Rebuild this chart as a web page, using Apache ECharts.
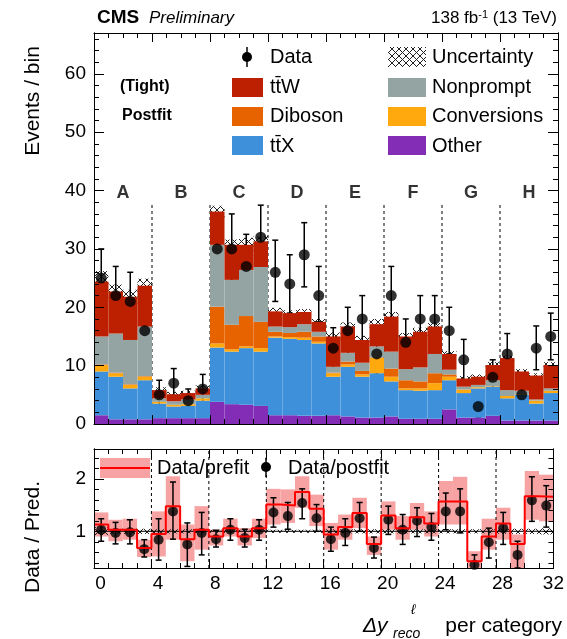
<!DOCTYPE html>
<html>
<head>
<meta charset="utf-8">
<script src="https://cdn.jsdelivr.net/npm/echarts@6/dist/echarts.min.js"></script>
<style>
  html, body { margin: 0; padding: 0; background: #fff; }
  #chart { width: 567px; height: 639px; }
</style>
</head>
<body>
<div id="chart"></div>
<script>
// ---- data ----
const binNames = ['0','1','2','3','4','5','6','7','8','9','10','11','12','13','14','15',
  '16','17','18','19','20','21','22','23','24','25','26','27','28','29','30','31'];
const categories = ['A', 'B', 'C', 'D', 'E', 'F', 'G', 'H'];
const catEdges = [4, 8, 12, 16, 20, 24, 28];

// stacked postfit yields per bin, bottom to top
const other       = [1.5,0.8,0.8,0.8, 1.0,1.0,1.0,1.0, 3.8,3.4,3.3,3.1, 1.5,1.5,1.4,1.4, 1.5,1.3,1.1,1.1, 1.3,0.9,0.9,0.9, 2.5,1.1,1.1,1.4, 0.6,0.6,0.6,0.6];
const ttX         = [7.5,7.3,5.3,6.7, 2.5,2.0,2.1,3.0, 9.3,9.0,9.7,9.3, 13.3,13.1,13.0,12.4, 6.6,8.5,7.0,7.6, 6.0,4.9,4.8,4.9, 5.0,4.2,5.0,5.0, 3.8,4.4,2.9,4.7];
const conversions = [1.1,0.6,0.6,0.6, 0.3,0.3,0.3,0.4, 0.7,0.4,0.3,0.6, 0.2,0.3,0.4,0.3, 0.6,0.4,0.4,2.6, 0.8,0.3,0.4,1.2, 0.6,0.6,0.2,0.1, 0.4,0.1,0.5,0.4];
const diboson     = [0.1,0.1,0.1,0.1, 0,0,0,0, 6.3,4.2,5.2,4.5, 0.8,0.7,1.0,0.9, 0.1,0.5,0.6,0.1, 1.4,1.4,1.2,1.7, 0.4,0,0,0, 0,0,0,0];
const nonprompt   = [4.8,6.7,7.6,8.5, 0.6,0.6,0.8,0.6, 10.6,7.7,7.9,9.4, 0.9,1.0,1.3,0.8, 1.0,1.5,1.4,1.9, 2.9,1.9,2.4,3.3, 0.8,0.5,0.4,1.0, 1.0,0.6,0.2,0.4];
const ttW         = [9.4,7.2,7.4,7.0, 1.4,1.2,1.1,1.1, 5.7,6.0,4.3,4.4, 2.6,2.4,2.1,1.7, 5.2,4.5,3.9,3.8, 6.0,5.6,6.1,4.7, 2.7,1.4,1.4,2.6, 5.5,3.3,4.1,4.0];
const uncert      = [1.8,1.2,1.2,1.2, 0.5,0.4,0.4,0.5, 1.0,0.9,1.2,0.9, 0.6,0.5,0.5,0.5, 0.7,0.7,0.7,0.9, 0.8,0.6,0.7,0.6, 0.5,0.4,0.4,0.5, 0.4,0.4,0.4,0.5];

// observed data with error bar ends
const dataObs = [25,22,21,16, 5,7,4,6, 30,30,27,32, 26,24,29,22, 13,16,18,12, 22,14,18,18, 16,11,3,8, 12,5,13,15];
const dataHi  = [30,27,26,20, 7.5,9.5,6,8.5, 36,36,32.5,37.5, 31.5,29,34.5,27, 16.5,20,22,15.5, 27,18,22,22, 20,14.5,4.7,11, 15.5,7.5,16.8,19];
const dataLo  = [20,18,16.5,12, 3,4.5,2.3,3.7, 24.5,24.5,21.5,26.5, 21,19,23.5,17.5, 9.5,12,13.5,8.5, 17,10.5,13.5,13.5, 12,7.5,1.2,5.5, 8.5,2.7,9.3,11];

// ratio panel
const ratioPost   = [1.03,0.97,0.98,0.66, 0.84,1.38,0.75,0.97, 0.85,1.03,0.87,1.03, 1.36,1.29,1.54,1.25, 0.85,0.97,1.25,0.68, 1.22,1.03,1.20,1.08, 1.38,1.38,0.36,0.79, 1.06,0.55,1.59,1.49];
const ratioPostHi = [1.24,1.17,1.22,0.84, 1.24,1.94,1.16,1.36, 1.02,1.24,1.04,1.22, 1.64,1.55,1.81,1.51, 1.08,1.24,1.55,0.89, 1.48,1.32,1.45,1.34, 1.73,1.81,0.55,1.06, 1.36,0.81,2.04,1.87];
const ratioPostLo = [0.81,0.76,0.76,0.51, 0.45,0.85,0.33,0.55, 0.70,0.83,0.70,0.83, 1.08,1.04,1.24,1.00, 0.62,0.73,1.00,0.49, 0.94,0.75,0.90,0.83, 1.03,0.97,0.25,0.49, 0.75,0.30,1.19,1.08];
const ratioPre    = [1.13,1.03,1.03,0.68, 0.95,1.48,0.85,1.03, 0.90,1.06,0.90,1.06, 1.51,1.49,1.75,1.43, 0.94,1.08,1.35,0.76, 1.30,1.06,1.27,1.15, 1.57,1.57,0.43,0.90, 1.15,0.76,1.67,1.66];
const ratioPreHi  = [1.36,1.22,1.24,0.84, 1.38,2.05,1.13,1.48, 1.03,1.24,1.06,1.24, 1.81,1.80,2.05,1.70, 1.16,1.32,1.64,0.90, 1.57,1.29,1.54,1.38, 1.96,2.04,0.62,1.24, 1.45,0.94,2.15,2.08];
const ratioPreLo  = [0.90,0.81,0.84,0.51, 0.52,0.84,0.43,0.65, 0.73,0.90,0.73,0.87, 1.13,1.16,1.45,1.10, 0.65,0.84,1.06,0.55, 1.03,0.84,1.03,0.90, 1.13,1.13,0.25,0.65, 0.84,0.30,1.22,1.19];
const postUnc     = [0.08,0.05,0.05,0.05, 0.04,0.04,0.04,0.04, 0.03,0.03,0.03,0.03, 0.03,0.03,0.03,0.03, 0.04,0.04,0.04,0.04, 0.04,0.04,0.04,0.04, 0.04,0.04,0.04,0.04, 0.05,0.05,0.05,0.06];

// tick values
const yMajor = [0, 10, 20, 30, 40, 50, 60];
const yMinor = [2,4,6,8,12,14,16,18,22,24,26,28,32,34,36,38,42,44,46,48,52,54,56,58,62,64,66];
const rMajor = [1, 2];
const rMinor = [0.4,0.6,0.8,1.2,1.4,1.6,1.8,2.2,2.4];

const FONT = '"Liberation Sans", Arial, Helvetica, sans-serif';
const colors = {
  ttW: '#bd1f01', nonprompt: '#94a4a2', diboson: '#e76300',
  conversions: '#ffa90e', ttX: '#3f90da', other: '#832db6'
};

// crosshatch pattern for uncertainties
function makeHatch(size) {
  const c = document.createElement('canvas');
  c.width = size; c.height = size;
  const g = c.getContext('2d');
  g.strokeStyle = '#222';
  g.lineWidth = 1;
  g.beginPath();
  g.moveTo(0, 0); g.lineTo(size, size);
  g.moveTo(size, 0); g.lineTo(0, size);
  g.stroke();
  return c;
}
const hatch = { image: makeHatch(7), repeat: 'repeat' };

// rect from value [x0, x1, y0, y1]
function rectRenderer(fill) {
  return function (params, api) {
    const p0 = api.coord([api.value(0), api.value(3)]);
    const p1 = api.coord([api.value(1), api.value(2)]);
    const shape = echarts.graphic.clipRectByRect(
      { x: p0[0], y: p0[1], width: p1[0] - p0[0], height: p1[1] - p0[1] },
      { x: params.coordSys.x, y: params.coordSys.y, width: params.coordSys.width, height: params.coordSys.height }
    );
    return shape && { type: 'rect', shape: shape, style: { fill: fill } };
  };
}

// error bar from value [x, lo, hi]
function errRenderer(capW) {
  return function (params, api) {
    const cs = params.coordSys;
    const top = api.coord([api.value(0), api.value(2)]);
    const bot = api.coord([api.value(0), api.value(1)]);
    const yTop = Math.max(top[1], cs.y);
    const yBot = Math.min(bot[1], cs.y + cs.height);
    const kids = [{ type: 'line', shape: { x1: top[0], y1: yTop, x2: top[0], y2: yBot }, style: { stroke: '#000', lineWidth: 1.5 } }];
    if (top[1] >= cs.y) kids.push({ type: 'line', shape: { x1: top[0] - capW, y1: top[1], x2: top[0] + capW, y2: top[1] }, style: { stroke: '#000', lineWidth: 1.5 } });
    if (bot[1] <= cs.y + cs.height) kids.push({ type: 'line', shape: { x1: bot[0] - capW, y1: bot[1], x2: bot[0] + capW, y2: bot[1] }, style: { stroke: '#000', lineWidth: 1.5 } });
    return { type: 'group', children: kids };
  };
}

// dashed category separators from value [x, y0, y1]
function sepRenderer(params, api) {
  const a = api.coord([api.value(0), api.value(1)]);
  const b = api.coord([api.value(0), api.value(2)]);
  return { type: 'line', shape: { x1: a[0], y1: a[1], x2: b[0], y2: b[1] }, style: { stroke: '#000', lineWidth: 1, lineDash: [3, 3] } };
}

const chart = echarts.init(document.getElementById('chart'));

const totals = binNames.map((_, i) => other[i] + ttX[i] + conversions[i] + diboson[i] + nonprompt[i] + ttW[i]);

function valueX(grid, pos, showLabel) {
  return {
    type: 'value', gridIndex: grid, position: pos, min: 0, max: 32, interval: 4, z: 10,
    axisLine: { show: true, onZero: false, lineStyle: { color: '#000', width: 1 } },
    axisTick: { show: true, inside: true, length: 9, lineStyle: { color: '#000' } },
    minorTick: { show: true, splitNumber: 4, length: 5, lineStyle: { color: '#000' } },
    axisLabel: {
      show: showLabel, color: '#000', fontSize: 19, fontFamily: FONT, margin: 6,
      // ROOT puts the labels a little right of the ticks, the last one pulled inside
      formatter: v => (v === 32 ? '{e|' + v + '}' : '{n|' + v + '}'),
      rich: {
        n: { fontSize: 19, fontFamily: FONT, color: '#000', padding: [0, 0, 0, 13] },
        e: { fontSize: 19, fontFamily: FONT, color: '#000', padding: [0, 0, 0, 0] }
      }
    },
    splitLine: { show: false }
  };
}
function valueY(grid, pos, min, max, ticks, len, labels) {
  return {
    type: 'value', gridIndex: grid, position: pos, min: min, max: max, z: 10,
    axisLine: { show: true, onZero: false, lineStyle: { color: '#000', width: 1 } },
    axisTick: { show: true, inside: true, length: len, customValues: ticks, lineStyle: { color: '#000' } },
    axisLabel: labels ? { show: true, customValues: labels, color: '#000', fontSize: 19, fontFamily: FONT, margin: 8 } : { show: false },
    splitLine: { show: false }
  };
}

function stackBar(name, values, color) {
  return {
    name: name, type: 'bar', stack: 'bkg', xAxisIndex: 0, yAxisIndex: 0,
    barWidth: '100%', barCategoryGap: '0%',
    itemStyle: { color: color }, data: values, animation: false
  };
}

const option = {
  animation: false,
  textStyle: { fontFamily: FONT },
  grid: [
    { left: 94, top: 33, width: 464, height: 391 },
    { left: 94, top: 449, width: 464, height: 119 }
  ],
  xAxis: [
    { type: 'category', gridIndex: 0, data: binNames, show: false, boundaryGap: true },
    valueX(0, 'bottom', false),
    valueX(0, 'top', false),
    valueX(1, 'bottom', true),
    valueX(1, 'top', false)
  ],
  yAxis: [
    valueY(0, 'left', 0, 67, yMajor, 10, yMajor),
    valueY(0, 'left', 0, 67, yMinor, 5, null),
    valueY(0, 'right', 0, 67, yMajor, 10, null),
    valueY(0, 'right', 0, 67, yMinor, 5, null),
    valueY(1, 'left', 0.3, 2.57, rMajor, 10, rMajor),
    valueY(1, 'left', 0.3, 2.57, rMinor, 5, null),
    valueY(1, 'right', 0.3, 2.57, rMajor, 10, null),
    valueY(1, 'right', 0.3, 2.57, rMinor, 5, null)
  ],
  series: [
    stackBar('Other', other, colors.other),
    stackBar('ttX', ttX, colors.ttX),
    stackBar('Conversions', conversions, colors.conversions),
    stackBar('Diboson', diboson, colors.diboson),
    stackBar('Nonprompt', nonprompt, colors.nonprompt),
    stackBar('ttW', ttW, colors.ttW),
    {
      name: 'Uncertainty', type: 'custom', xAxisIndex: 1, yAxisIndex: 0,
      renderItem: rectRenderer(hatch),
      data: totals.map((t, i) => [i, i + 1, t - uncert[i], t + uncert[i]])
    },
    {
      type: 'custom', xAxisIndex: 1, yAxisIndex: 0, renderItem: sepRenderer,
      data: catEdges.map(x => [x, 0, 37.9])
    },
    {
      type: 'scatter', xAxisIndex: 1, yAxisIndex: 0, symbolSize: 0, silent: true,
      data: categories.map((c, i) => ({ value: [4 * i + 2, 39.6], name: c })),
      label: { show: true, position: 'inside', formatter: '{b}', color: '#000', fontSize: 18, fontWeight: 'bold', fontFamily: FONT }
    },
    {
      type: 'custom', xAxisIndex: 1, yAxisIndex: 0, renderItem: errRenderer(3),
      data: dataObs.map((v, i) => [i + 0.5, dataLo[i], dataHi[i]])
    },
    {
      name: 'Data', type: 'scatter', xAxisIndex: 1, yAxisIndex: 0, symbolSize: 11,
      itemStyle: { color: '#000' },
      data: dataObs.map((v, i) => [i + 0.5, v])
    },
    // ratio panel
    {
      type: 'custom', xAxisIndex: 3, yAxisIndex: 4, renderItem: rectRenderer('#f7a3a3'),
      data: ratioPre.map((v, i) => [i, i + 1, ratioPreLo[i], ratioPreHi[i]])
    },
    {
      type: 'custom', xAxisIndex: 3, yAxisIndex: 4, renderItem: rectRenderer(hatch),
      data: postUnc.map((u, i) => [i, i + 1, 1 - u, 1 + u])
    },
    {
      type: 'line', xAxisIndex: 3, yAxisIndex: 4, symbol: 'none',
      lineStyle: { color: '#000', width: 1 }, data: [[0, 1], [32, 1]]
    },
    {
      type: 'custom', xAxisIndex: 3, yAxisIndex: 4, renderItem: sepRenderer,
      data: catEdges.map(x => [x, 0.3, 2.57])
    },
    {
      name: 'Data/prefit', type: 'line', xAxisIndex: 3, yAxisIndex: 4, step: 'end', symbol: 'none',
      lineStyle: { color: '#ff0000', width: 2 },
      data: ratioPre.map((v, i) => [i, v]).concat([[32, ratioPre[ratioPre.length - 1]]])
    },
    {
      type: 'custom', xAxisIndex: 3, yAxisIndex: 4, renderItem: errRenderer(3),
      data: ratioPost.map((v, i) => [i + 0.5, ratioPostLo[i], ratioPostHi[i]])
    },
    {
      name: 'Data/postfit', type: 'scatter', xAxisIndex: 3, yAxisIndex: 4, symbolSize: 10,
      itemStyle: { color: '#000' },
      data: ratioPost.map((v, i) => [i + 0.5, v])
    }
  ],
  graphic: [
    // header
    { type: 'text', left: 97, top: 8, style: { text: 'CMS', font: 'bold 19px ' + FONT, fill: '#000' } },
    { type: 'text', left: 149, top: 10, style: { text: 'Preliminary', font: 'italic 17px ' + FONT, fill: '#000' } },
    { type: 'text', right: 10, top: 9, style: {
        text: '138 fb{s|-1} (13 TeV)', font: '17px ' + FONT, fill: '#000',
        rich: { s: { fontSize: 11, verticalAlign: 'top', padding: [0, 0, 8, 0] } } } },
    // axis titles
    { type: 'text', x: 33, y: 101, rotation: Math.PI / 2,
      style: { text: 'Events / bin', font: '21px ' + FONT, fill: '#000', align: 'center', verticalAlign: 'middle' } },
    { type: 'text', x: 33, y: 537, rotation: Math.PI / 2,
      style: { text: 'Data / Pred.', font: '21px ' + FONT, fill: '#000', align: 'center', verticalAlign: 'middle' } },
    { type: 'text', x: 363, y: 626, style: { text: 'Δy', font: 'italic 21px ' + FONT, fill: '#000', verticalAlign: 'middle' } },
    { type: 'text', x: 393, y: 634, style: { text: 'reco', font: 'italic 14px ' + FONT, fill: '#000', verticalAlign: 'middle' } },
    { type: 'text', x: 411, y: 610, style: { text: 'ℓ', font: 'italic 14px ' + FONT, fill: '#000', verticalAlign: 'middle' } },
    { type: 'text', x: 562, y: 626, style: { text: 'per category', font: '21px ' + FONT, fill: '#000', align: 'right', verticalAlign: 'middle' } },
    // upper labels
    { type: 'text', x: 120, y: 87, style: { text: '(Tight)', font: 'bold 16px ' + FONT, fill: '#000', verticalAlign: 'middle' } },
    { type: 'text', x: 122, y: 116, style: { text: 'Postfit', font: 'bold 16px ' + FONT, fill: '#000', verticalAlign: 'middle' } },
    // upper legend
    { type: 'line', shape: { x1: 247, y1: 47, x2: 247, y2: 67 }, style: { stroke: '#000', lineWidth: 1.5 } },
    { type: 'circle', shape: { cx: 247, cy: 57, r: 5 }, style: { fill: '#000' } },
    { type: 'text', x: 270, y: 57, style: { text: 'Data', font: '20px ' + FONT, fill: '#000', verticalAlign: 'middle' } },
    { type: 'rect', shape: { x: 388, y: 47, width: 38, height: 20 }, style: { fill: hatch } },
    { type: 'text', x: 432, y: 57, style: { text: 'Uncertainty', font: '20px ' + FONT, fill: '#000', verticalAlign: 'middle' } },
    { type: 'rect', shape: { x: 232, y: 78, width: 31, height: 19 }, style: { fill: colors.ttW } },
    { type: 'text', x: 270, y: 87, style: { text: 'tt\u0304W', font: '20px ' + FONT, fill: '#000', verticalAlign: 'middle' } },
    { type: 'rect', shape: { x: 232, y: 107, width: 31, height: 19 }, style: { fill: colors.diboson } },
    { type: 'text', x: 270, y: 116, style: { text: 'Diboson', font: '20px ' + FONT, fill: '#000', verticalAlign: 'middle' } },
    { type: 'rect', shape: { x: 232, y: 136, width: 31, height: 19 }, style: { fill: colors.ttX } },
    { type: 'text', x: 270, y: 146, style: { text: 'tt\u0304X', font: '20px ' + FONT, fill: '#000', verticalAlign: 'middle' } },
    { type: 'rect', shape: { x: 388, y: 78, width: 38, height: 19 }, style: { fill: colors.nonprompt } },
    { type: 'text', x: 432, y: 87, style: { text: 'Nonprompt', font: '20px ' + FONT, fill: '#000', verticalAlign: 'middle' } },
    { type: 'rect', shape: { x: 388, y: 107, width: 38, height: 19 }, style: { fill: colors.conversions } },
    { type: 'text', x: 432, y: 116, style: { text: 'Conversions', font: '20px ' + FONT, fill: '#000', verticalAlign: 'middle' } },
    { type: 'rect', shape: { x: 388, y: 136, width: 38, height: 19 }, style: { fill: colors.other } },
    { type: 'text', x: 432, y: 146, style: { text: 'Other', font: '20px ' + FONT, fill: '#000', verticalAlign: 'middle' } },
    // ratio legend
    { type: 'rect', shape: { x: 100, y: 458, width: 50, height: 20 }, style: { fill: '#f7a3a3' } },
    { type: 'line', shape: { x1: 100, y1: 468, x2: 150, y2: 468 }, style: { stroke: '#ff0000', lineWidth: 2 } },
    { type: 'text', x: 157, y: 468, style: { text: 'Data/prefit', font: '20px ' + FONT, fill: '#000', verticalAlign: 'middle' } },
    { type: 'line', shape: { x1: 266, y1: 458, x2: 266, y2: 477 }, style: { stroke: '#000', lineWidth: 1.5 } },
    { type: 'circle', shape: { cx: 266, cy: 467, r: 5 }, style: { fill: '#000' } },
    { type: 'text', x: 288, y: 468, style: { text: 'Data/postfit', font: '20px ' + FONT, fill: '#000', verticalAlign: 'middle' } }
  ]
};

chart.setOption(option);
window.addEventListener('resize', () => chart.resize());
</script>
</body>
</html>
